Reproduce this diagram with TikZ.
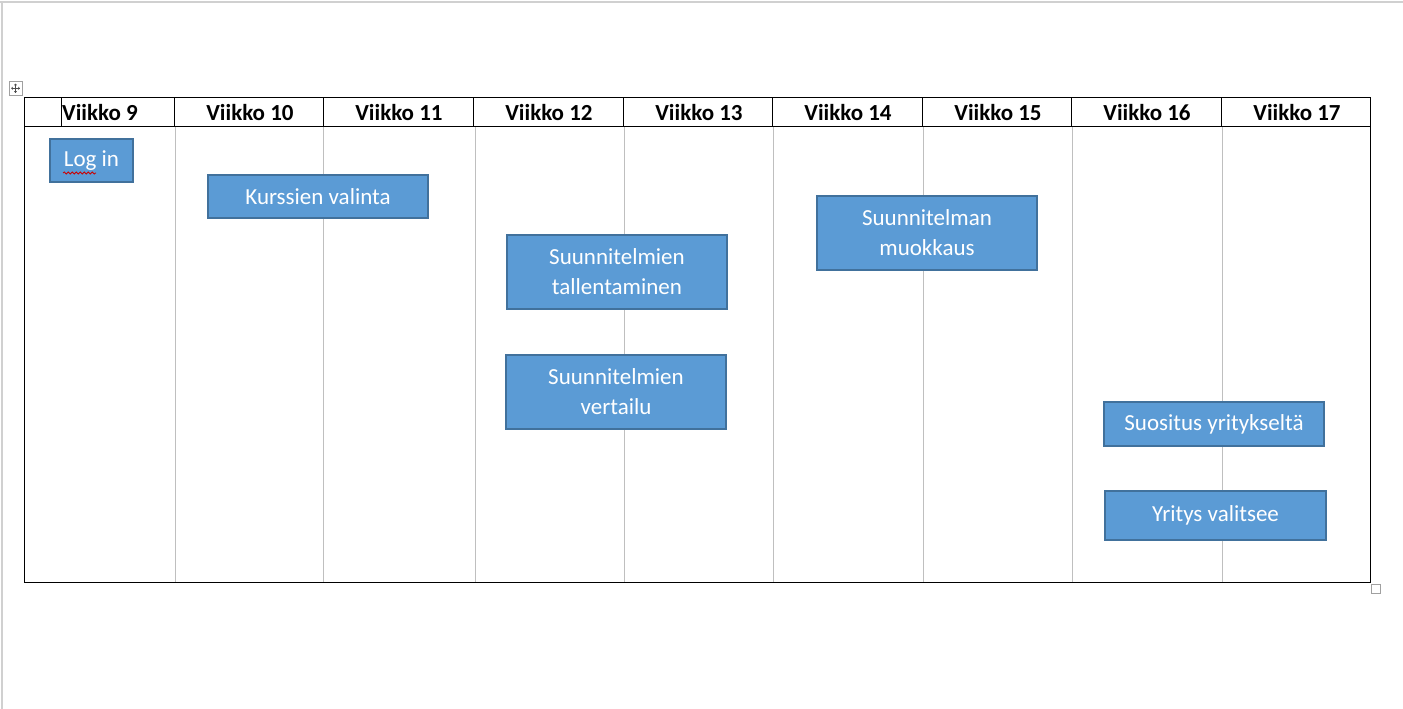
\documentclass[tikz,border=0pt]{standalone}
\usepackage{fontspec}
\setmainfont{Carlito}
\usetikzlibrary{decorations.pathmorphing}
\definecolor{boxfill}{HTML}{5B9BD5}
\definecolor{boxline}{HTML}{41719C}
\definecolor{gridgray}{HTML}{BFBFBF}
\definecolor{pagegray}{HTML}{D0D0D0}
\definecolor{handlegray}{HTML}{A0A0A0}
\tikzset{
  taskbox/.style={draw=boxline, fill=boxfill, line width=1.5pt, text=white, align=center,
    inner sep=0pt, font=\fontsize{23}{30}\selectfont},
  hdr/.style={anchor=base, inner sep=0pt, font=\bfseries\fontsize{23}{28}\selectfont},
  bodyline/.style={draw=gridgray, line width=1pt},
  headline/.style={draw=black, line width=1pt},
}
\begin{document}
\begin{tikzpicture}[x=1pt,y=-1pt]
\useasboundingbox (0,0) rectangle (1403,709);
\fill[white] (0,0) rectangle (1403,709);
% page edges
\draw[pagegray, line width=2pt] (0,2.5) -- (1403,2.5);
\draw[pagegray, line width=2pt] (1.5,2.5) -- (1.5,709);
% table move handle
\draw[handlegray, line width=0.8pt, fill=white] (9,81.5) rectangle (22,95);
\draw[black!70, line width=0.6pt] (15.5,84) -- (15.5,92.5) (11.5,88.25) -- (19.5,88.25);
\draw[black!70, line width=0.5pt] (14.2,85.3) -- (15.5,84) -- (16.8,85.3)
  (14.2,91.2) -- (15.5,92.5) -- (16.8,91.2)
  (12.8,86.95) -- (11.5,88.25) -- (12.8,89.55)
  (18.2,86.95) -- (19.5,88.25) -- (18.2,89.55);
% table resize handle
\draw[handlegray, line width=0.8pt, fill=white] (1371.5,584.5) rectangle (1380.5,593);
% body grid lines (gray)
\foreach \x in {175,323.5,475,624,773,923,1072,1222}
  \draw[bodyline] (\x,126) -- (\x,582);
% header lines (black)
\foreach \x in {61.5,174.5,323.5,473.5,623.5,772.5,922.5,1071.5,1221.5}
  \draw[headline] (\x,97.5) -- (\x,126.5);
\draw[headline] (24.5,126.5) -- (1370.5,126.5);
\draw[headline] (24.5,97.5) rectangle (1370.5,582.5);
% header texts
\node[hdr] (w9)  at (100,120) {Viikko 9};
\node[hdr] (w10) at (250,120) {Viikko 10};
\node[hdr] (w11) at (399,120) {Viikko 11};
\node[hdr] (w12) at (549,120) {Viikko 12};
\node[hdr] (w13) at (699,120) {Viikko 13};
\node[hdr] (w14) at (848,120) {Viikko 14};
\node[hdr] (w15) at (998,120) {Viikko 15};
\node[hdr] (w16) at (1147,120) {Viikko 16};
\node[hdr] (w17) at (1297,120) {Viikko 17};
% task boxes
\node[taskbox, minimum width=83pt, minimum height=43pt] (login) at (91.5,160.5) {Log in};
\node[taskbox, minimum width=220pt, minimum height=43pt] (kurssit) at (318,196.5) {Kurssien valinta};
\node[taskbox, minimum width=220pt, minimum height=74pt] (tallennus) at (617,272) {Suunnitelmien\\tallentaminen};
\node[taskbox, minimum width=220pt, minimum height=74pt] (vertailu) at (616,392) {Suunnitelmien\\vertailu};
\node[taskbox, minimum width=220pt, minimum height=74pt] (muokkaus) at (927,233) {Suunnitelman\\muokkaus};
\node[taskbox, minimum width=220pt, minimum height=44pt] (suositus) at (1214,424) {Suositus yritykseltä};
\node[taskbox, minimum width=221pt, minimum height=49pt] (valitsee) at (1215.5,515.5) {Yritys valitsee};
% spell-check underline
\draw[red!80!black, line width=0.8pt, decorate, decoration={snake, amplitude=1pt, segment length=4pt}]
  (63,173) -- (96,173);
\end{tikzpicture}
\end{document}
